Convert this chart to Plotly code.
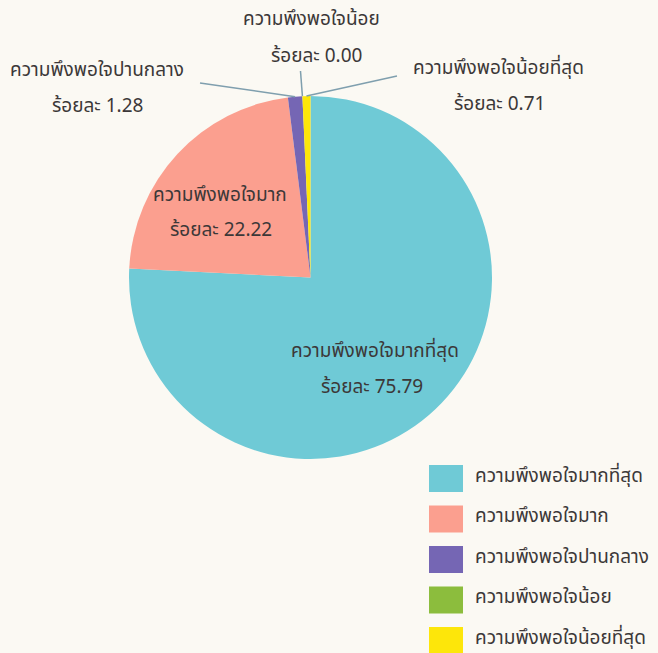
import numpy as np
import plotly.graph_objects as go

# ---- data ----
labels = ["ความพึงพอใจมากที่สุด", "ความพึงพอใจมาก", "ความพึงพอใจปานกลาง",
          "ความพึงพอใจน้อย", "ความพึงพอใจน้อยที่สุด"]
values = [75.79, 22.22, 1.28, 0.00, 0.71]
colors = ["#6fcad6", "#fb9f8f", "#7566b4", "#8cbd3d", "#fde60a"]
prefix = "ร้อยละ"

W, H = 658, 653
BG = "#fbf9f3"
FONT = "Noto Sans Thai, Noto Sans, Lato, sans-serif"
TXT = "#3c3838"
FS = 19

# pie geometry (pixels)
CX, CY, R = 310.5, 277.5, 181.5


def px(x):
    return x / W


def py(y):
    return 1 - y / H


fig = go.Figure(go.Pie(
    labels=labels, values=values, sort=False, direction="clockwise", rotation=0,
    marker=dict(colors=colors, line=dict(width=0)),
    textinfo="none", showlegend=False, hole=0,
    domain=dict(x=[px(CX - R), px(CX + R)], y=[py(CY + R), py(CY - R)]),
))

pct = [f"{prefix} {v:.2f}" for v in values]

# label placements (pixel centres of the two text lines)
label_pos = [
    ((375, 351), (372, 387)),
    ((220, 195), (221, 230)),
    ((97, 71), (97, 106)),
    ((311, 19), (316, 57)),
    ((498, 69), (499, 104)),
]
# leader-line outer ends (None for inside labels)
leader_end = [None, None, (200, 83), (300.5, 71), (397, 76)]

annotations = []
shapes = []
for i, ((p1, p2), end) in enumerate(zip(label_pos, leader_end)):
    for (x, y), t in ((p1, labels[i]), (p2, pct[i])):
        annotations.append(dict(
            x=px(x), y=py(y), xref="paper", yref="paper", text=t, showarrow=False,
            xanchor="center", yanchor="middle",
            font=dict(family=FONT, size=FS, color=TXT)))
    if end is not None:
        cum = np.cumsum([0] + values) / sum(values)
        ang = 2 * np.pi * (cum[i] + cum[i + 1]) / 2
        sx = CX + R * np.sin(ang)
        sy = CY - R * np.cos(ang)
        shapes.append(dict(type="line", xref="paper", yref="paper",
                           x0=px(sx), y0=py(sy), x1=px(end[0]), y1=py(end[1]),
                           line=dict(color="#7f9fae", width=1.5)))

# legend drawn as swatches + text
LX0, LX1, LY0, LSTEP, LSH = 429, 463, 465, 40.5, 27
for i, (lab, col) in enumerate(zip(labels, colors)):
    y0 = LY0 + i * LSTEP
    shapes.append(dict(type="rect", xref="paper", yref="paper",
                       x0=px(LX0), x1=px(LX1), y0=py(y0), y1=py(min(y0 + LSH, H)),
                       fillcolor=col, line=dict(width=0)))
    annotations.append(dict(
        x=px(473), y=py(y0 + LSH / 2 - 2.5), xref="paper", yref="paper", text=lab,
        showarrow=False, xanchor="left", yanchor="middle",
        font=dict(family=FONT, size=FS, color=TXT)))

fig.update_layout(
    width=W, height=H, margin=dict(l=0, r=0, t=0, b=0),
    paper_bgcolor=BG, plot_bgcolor=BG,
    annotations=annotations, shapes=shapes,
)

fig.write_html("out.html")
